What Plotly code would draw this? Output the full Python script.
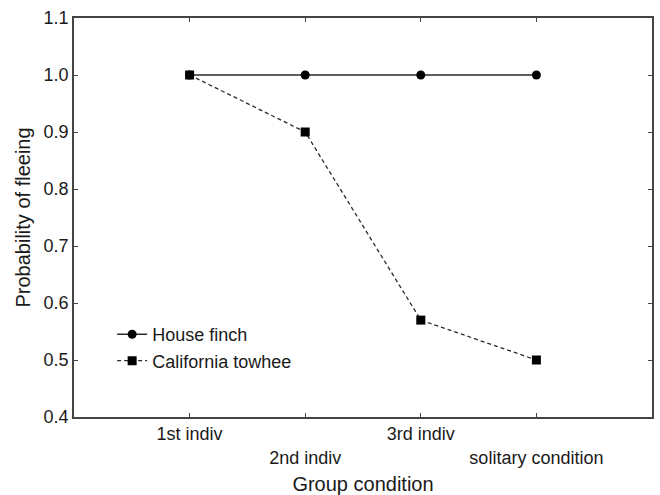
import plotly.graph_objects as go

categories = ["1st indiv", "2nd indiv", "3rd indiv", "solitary condition"]
house_finch = [1.0, 1.0, 1.0, 1.0]
ca_towhee = [1.0, 0.9, 0.57, 0.5]
y_ticks = [0.4, 0.5, 0.6, 0.7, 0.8, 0.9, 1.0, 1.1]

xs = list(range(len(categories)))
tick_text = [c if i % 2 == 0 else "<br>" + c for i, c in enumerate(categories)]

axis_color = "#444444"
font = "Liberation Sans, Arial, sans-serif"

fig = go.Figure()
fig.add_trace(go.Scatter(
    x=xs, y=house_finch, name="House finch", mode="lines+markers",
    line=dict(color="#2a2a2a", width=1.3, dash="solid"),
    marker=dict(symbol="circle", size=9, color="#000"),
))
fig.add_trace(go.Scatter(
    x=xs, y=ca_towhee, name="California towhee", mode="lines+markers",
    line=dict(color="#2a2a2a", width=1.3, dash="4px,3px"),
    marker=dict(symbol="square", size=9, color="#000"),
))

fig.update_layout(
    width=660, height=495,
    margin=dict(l=74, r=8, t=18, b=78),
    paper_bgcolor="white", plot_bgcolor="white",
    font=dict(family=font, size=18, color="#1a1a1a"),
    showlegend=True,
    legend=dict(x=0.066, y=0.174, xanchor="left", yanchor="middle",
                bgcolor="rgba(0,0,0,0)", font=dict(size=18),
                itemwidth=30, tracegroupgap=0),
    xaxis=dict(
        range=[-1, 4], tickmode="array", tickvals=xs, ticktext=tick_text,
        ticks="inside", ticklen=4, tickcolor=axis_color,
        tickfont=dict(size=18), automargin=False,
        showline=True, linecolor=axis_color, linewidth=1.5, mirror="ticks",
        showgrid=False, zeroline=False,
        title=dict(text="Group condition", font=dict(size=20), standoff=15),
    ),
    yaxis=dict(
        range=[0.4, 1.1], tickmode="array", tickvals=y_ticks,
        tickformat=".1f",
        ticks="inside", ticklen=4, tickcolor=axis_color,
        tickfont=dict(size=18), automargin=False,
        showline=True, linecolor=axis_color, linewidth=1.5, mirror="ticks",
        showgrid=False, zeroline=False,
        title=dict(text="Probability of fleeing", font=dict(size=20), standoff=8),
    ),
)

fig.write_html("out.html")
